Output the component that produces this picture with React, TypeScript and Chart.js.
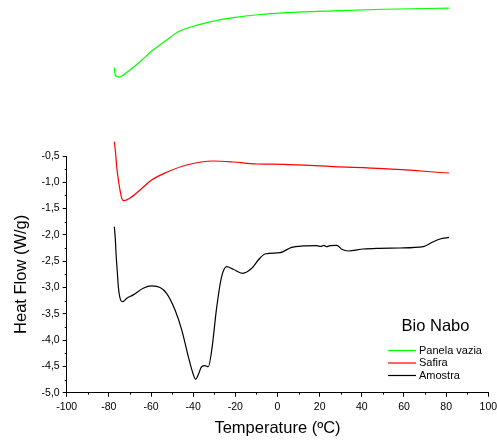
import React, { useEffect, useRef } from "react";
import { Chart, registerables } from "chart.js";

Chart.register(...registerables);

// Temperature (ºC) / Heat Flow (W/g)
const panelaTemp = [-77.4, -77.1, -76.2, -75.0, -72.5, -70.0, -65.2, -59.7, -53.4, -47.1, -41.5, -32.0, -21.0, -8.3, 4.4, 26.5, 50.2, 81.4];
const panelaHeat = [1.18, 1.06, 1.01, 1.0, 1.06, 1.135, 1.293, 1.496, 1.68, 1.863, 1.947, 2.05, 2.13, 2.19, 2.225, 2.26, 2.29, 2.31];

const safiraTemp = [-77.4, -76.8, -76.3, -75.6, -75.0, -73.9, -72.8, -70.0, -65.2, -59.7, -52.6, -43.1, -30.5, -21.0, -9.9, 2.7, 26.5, 50.2, 81.4];
const safiraHeat = [-0.23, -0.45, -0.70, -0.92, -1.08, -1.30, -1.35, -1.30, -1.146, -0.956, -0.81, -0.671, -0.595, -0.614, -0.652, -0.658, -0.703, -0.741, -0.823];

const amostraTemp = [-77.4, -76.9, -76.6, -76.0, -75.5, -74.4, -73.4, -71.5, -68.4, -63.7, -59.7, -55.7, -52.6, -48.6, -45.4, -42.3, -39.9, -38.8, -37.6, -36.0, -34.4, -32.8, -31.2, -28.8, -26.5, -24.1, -21.0, -16.5, -12.2, -9.1, -5.9, 1.2, 6.7, 12.2, 18.6, 20.5, 22.0, 23.3, 25.0, 28.1, 30.5, 33.6, 40.7, 47.1, 58.1, 69.2, 73.9, 77.1, 81.4];
const amostraHeat = [-1.844, -2.1, -2.35, -2.7, -2.985, -3.24, -3.27, -3.205, -3.14, -3.015, -2.97, -3.0, -3.11, -3.428, -3.81, -4.316, -4.66, -4.745, -4.66, -4.506, -4.487, -4.506, -4.19, -3.365, -2.795, -2.605, -2.654, -2.73, -2.635, -2.477, -2.363, -2.338, -2.236, -2.21, -2.205, -2.22, -2.2, -2.224, -2.205, -2.198, -2.274, -2.306, -2.268, -2.255, -2.249, -2.224, -2.129, -2.078, -2.046];

const seriesLabels = ["Panela vazia", "Safira", "Amostra"];
const seriesColors = ["#00ff00", "#ff0000", "#000000"];
const legendTitle = "Bio Nabo";
const xTitle = "Temperature (ºC)";
const yTitle = "Heat Flow (W/g)";
const xMinorTicks = [-90, -70, -50, -30, -10, 10, 30, 50, 70, 90];
const yMinorTicks = [-4.75, -4.25, -3.75, -3.25, -2.75, -2.25, -1.75, -1.25, -0.75];

const FONT = "'Liberation Sans', Arial, Helvetica, sans-serif";

const toPoints = (xs: number[], ys: number[]) => xs.map((x, i) => ({ x, y: ys[i] }));

const extrasPlugin = {
  id: "extras",
  afterDraw(chart: any) {
    const { ctx, scales } = chart;
    const xs = scales.x;
    const ys = scales.y;
    ctx.save();
    ctx.strokeStyle = "#000";
    ctx.lineWidth = 1;
    // minor ticks
    xMinorTicks.forEach((v) => {
      const px = Math.round(xs.getPixelForValue(v)) + 0.5;
      ctx.beginPath();
      ctx.moveTo(px, ys.bottom);
      ctx.lineTo(px, ys.bottom + 2);
      ctx.stroke();
    });
    yMinorTicks.forEach((v) => {
      const py = Math.round(ys.getPixelForValue(v)) + 0.5;
      ctx.beginPath();
      ctx.moveTo(xs.left, py);
      ctx.lineTo(xs.left - 2, py);
      ctx.stroke();
    });
    // legend
    ctx.fillStyle = "#000";
    ctx.textBaseline = "middle";
    ctx.textAlign = "center";
    ctx.font = `16.5px ${FONT}`;
    ctx.fillText(legendTitle, 435.5, 326);
    ctx.textAlign = "left";
    ctx.font = `11px ${FONT}`;
    const rows = [350.5, 363, 375.5];
    seriesLabels.forEach((lab, i) => {
      ctx.strokeStyle = seriesColors[i];
      ctx.lineWidth = 1.2;
      ctx.beginPath();
      ctx.moveTo(388, rows[i]);
      ctx.lineTo(416, rows[i]);
      ctx.stroke();
      ctx.fillStyle = "#000";
      ctx.fillText(lab, 419, rows[i]);
    });
    ctx.restore();
  },
};

export default function App() {
  const ref = useRef<HTMLCanvasElement>(null);
  useEffect(() => {
    if (!ref.current) return;
    const series = [
      toPoints(panelaTemp, panelaHeat),
      toPoints(safiraTemp, safiraHeat),
      toPoints(amostraTemp, amostraHeat),
    ];
    const chart = new Chart(ref.current, {
      type: "line",
      data: {
        datasets: series.map((d, i) => ({
          label: seriesLabels[i],
          data: d,
          borderColor: seriesColors[i],
          backgroundColor: seriesColors[i],
          borderWidth: 1.2,
          pointRadius: 0,
          cubicInterpolationMode: "monotone" as const,
          clip: false as any,
          fill: false,
        })),
      },
      options: {
        responsive: false,
        animation: false,
        devicePixelRatio: 1,
        layout: { padding: { top: 156, right: 8.7, left: 0, bottom: 0 } },
        plugins: { legend: { display: false }, tooltip: { enabled: false } },
        scales: {
          x: {
            type: "linear",
            min: -100,
            max: 100,
            afterFit: (s: any) => { s.height = 51.3; s.paddingLeft = 0; s.paddingRight = 0; },
            ticks: {
              stepSize: 20,
              padding: 4,
              color: "#000",
              font: { family: FONT, size: 10.5 },
              maxRotation: 0,
              callback: (v: any) => String(Math.round(Number(v))),
            },
            grid: { drawOnChartArea: false, drawTicks: true, tickLength: 4, color: "#000", lineWidth: 1 },
            border: { display: true, color: "#000", width: 1 },
            title: {
              display: true,
              text: xTitle,
              color: "#000",
              font: { family: FONT, size: 16.5 },
              padding: { top: 0, bottom: 6 },
            },
          },
          y: {
            type: "linear",
            min: -5,
            max: -0.5,
            afterFit: (s: any) => { s.width = 66.7; s.paddingTop = 0; s.paddingBottom = 0; },
            ticks: {
              stepSize: 0.5,
              padding: 3,
              color: "#000",
              font: { family: FONT, size: 10.5 },
              callback: (v: any) => Number(v).toFixed(1).replace(".", ","),
            },
            grid: { drawOnChartArea: false, drawTicks: true, tickLength: 4, color: "#000", lineWidth: 1 },
            border: { display: true, color: "#000", width: 1 },
            title: {
              display: true,
              text: yTitle,
              color: "#000",
              font: { family: FONT, size: 16.5 },
              padding: { top: 12, bottom: 0 },
            },
          },
        },
      },
      plugins: [extrasPlugin],
    });
    return () => chart.destroy();
  }, []);
  return (
    <div style={{ position: "fixed", left: 0, top: 0, width: 497, height: 444, background: "#fff" }}>
      <canvas ref={ref} width={497} height={444} style={{ display: "block" }} />
    </div>
  );
}
